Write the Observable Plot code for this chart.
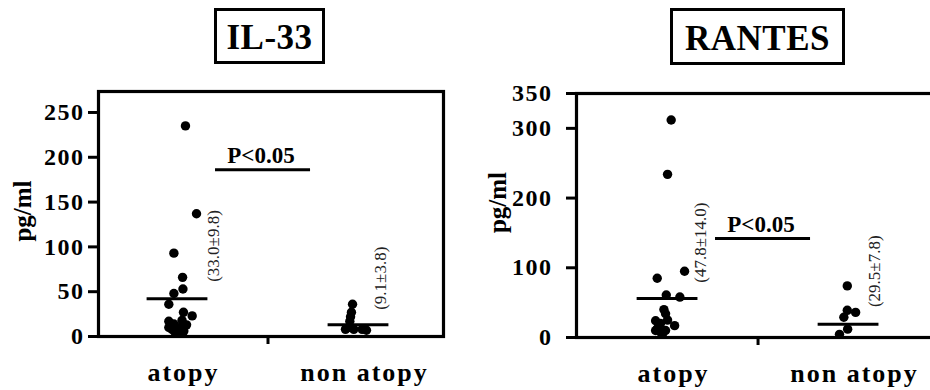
<!DOCTYPE html>
<html>
<head>
<meta charset="utf-8">
<script src="https://cdn.jsdelivr.net/npm/d3@7"></script>
<script src="https://cdn.jsdelivr.net/npm/@observablehq/plot@0.6"></script>
<style>
  html, body { margin: 0; padding: 0; background: white; }
  body { width: 930px; height: 390px; overflow: hidden; position: relative; font-family: "Liberation Serif", "Times New Roman", serif; }
  .panel { position: absolute; top: 0; z-index: 1; }
  .titlebox { position: absolute; z-index: 2; box-sizing: border-box; border: 3px solid black; background: white; display: flex; align-items: center; justify-content: center; font: bold 35px "Liberation Serif", serif; line-height: 1; padding-top: 3px; letter-spacing: 0.5px; }
  .panel g[aria-label="y-axis tick label"] { letter-spacing: 1.5px; }
  .panel g[aria-label="x-axis tick label"] { letter-spacing: 2px; }
  .panel g[aria-label="ylabel"] { letter-spacing: 1px; }
</style>
</head>
<body>
<div class="titlebox" id="t1" style="left:214px; top:8px; width:111px; height:56px;"></div>
<div class="titlebox" id="t2" style="left:670px; top:8px; width:175px; height:57px;"></div>
<div class="panel" id="p1" style="left:0px; width:465px;"></div>
<div class="panel" id="p2" style="left:465px; width:475px;"></div>
<script>
// ---- data ----
const categories = ["atopy", "non atopy"];
const titles = ["IL-33", "RANTES"];
const yUnit = "pg/ml";

const il33Atopy = [235, 137, 93, 66, 53, 48, 36, 27, 23, 17, 18, 14, 13, 10, 10, 8, 6, 6, 5, 4];
const il33AtopyJitter = [0.044, 0.105, -0.02, 0.028, 0.03, -0.02, -0.048, 0.033, 0.081, -0.048, 0.025, -0.02, 0.05, 0.015, -0.048, -0.03, 0, 0.035, -0.015, 0.01];
const il33NonAtopy = [36, 27, 22, 17, 10, 8, 8, 7, 8];
const il33NonAtopyJitter = [-0.033, -0.039, -0.044, -0.048, -0.054, -0.026, 0.02, 0.044, -0.072];

const rantesAtopy = [312, 234, 95, 85, 61, 58, 40, 34, 25, 24, 20, 17, 13, 10, 10, 8, 5];
const rantesAtopyJitter = [0.02, 0, 0.094, -0.057, -0.007, 0.068, -0.02, -0.011, 0, -0.066, -0.039, 0.039, -0.055, -0.066, -0.011, -0.039, -0.028];
const rantesNonAtopy = [74, 39, 36, 29, 12, 4.5];
const rantesNonAtopyJitter = [-0.007, -0.007, 0.039, -0.026, -0.005, -0.05];

const il33MeanLines = [42, 13];
const rantesMeanLines = [56, 19];
const il33Stats = ["(33.0±9.8)", "(9.1±3.8)"];
const rantesStats = ["(47.8±14.0)", "(29.5±7.8)"];
const il33StatPos = [{x: 1.2, y: 101}, {x: 2.12, y: 65}];
const rantesStatPos = [{x: 1.185, y: 136}, {x: 2.144, y: 95}];
const il33Sig = {label: "P<0.05", y: 186, x1: 1.21, x2: 1.735};
const rantesSig = {label: "P<0.05", y: 142, x1: 1.265, x2: 1.79};

const il33Ticks = [0, 50, 100, 150, 200, 250];
const rantesTicks = [0, 100, 200, 300, 350];
const il33Max = 273.4;
const rantesMax = 350;

// ---- build ----
function rows(vals, jit, c) { return vals.map((v, i) => ({c, v, j: jit[i]})); }

function panel(cfg) {
  const dots = [...rows(cfg.a, cfg.aj, 1), ...rows(cfg.n, cfg.nj, 2)];
  const means = cfg.means.map((v, i) => ({c: i + 1, v}));
  const stats = cfg.stats.map((t, i) => ({...cfg.statPos[i], t}));
  const hw = 0.168;
  return Plot.plot({
    width: cfg.width, height: 390,
    marginLeft: cfg.ml, marginRight: cfg.mr, marginTop: cfg.mt, marginBottom: cfg.mb,
    style: "max-width:none; overflow:visible; font-family:'Liberation Serif','Times New Roman',serif; background:transparent;",
    x: {type: "linear", domain: cfg.xd},
    y: {domain: [0, cfg.ymax]},
    marks: [
      Plot.frame({stroke: "black", strokeWidth: 3.2}),
      Plot.axisY(cfg.ticks, {tickSize: 10, strokeWidth: 3, tickPadding: cfg.tp, fontSize: 24, fontWeight: "bold", label: null, fill: "black"}),
      Plot.text([yUnit], {ariaLabel: "ylabel", frameAnchor: "left", textAnchor: "middle", rotate: -90, dx: cfg.ldx, dy: cfg.ldy, fontSize: 25, fontWeight: "bold", fill: "black"}),
      Plot.axisX([1.5], {tickSize: 8, strokeWidth: 3, tickFormat: () => "", label: null}),
      Plot.axisX([1, 2], {tickSize: 0, tickPadding: 26, tickFormat: d => categories[d - 1], fontSize: 26, fontWeight: "bold", dx: 6, label: null, fill: "black"}),
      Plot.dot(dots, {x: d => d.c + d.j, y: "v", r: 4.7, fill: "black", stroke: "none"}),
      Plot.ruleY(means, {y: "v", x1: d => d.c - hw, x2: d => d.c + hw, strokeWidth: 3, stroke: "black"}),
      Plot.ruleY([cfg.sig], {y: "y", x1: "x1", x2: "x2", strokeWidth: 3, stroke: "black"}),
      Plot.text([cfg.sig], {x: d => (d.x1 + d.x2) / 2, y: "y", text: "label", lineAnchor: "bottom", dy: -7, dx: -2, fontSize: 23, fontWeight: "bold", fill: "black"}),
      Plot.text(stats, {x: "x", y: "y", text: "t", rotate: -90, fontSize: 17, fill: "#222"})
    ]
  });
}

document.getElementById("t1").textContent = titles[0];
document.getElementById("t2").textContent = titles[1];

document.getElementById("p1").append(panel({
  width: 465, ml: 98, mr: 22, mt: 91, mb: 54, xd: [0.5635, 2.4696], ymax: il33Max, ticks: il33Ticks, tp: 4,
  ldx: -76, ldy: -3,
  a: il33Atopy, aj: il33AtopyJitter, n: il33NonAtopy, nj: il33NonAtopyJitter,
  means: il33MeanLines, stats: il33Stats, statPos: il33StatPos, sig: il33Sig
}));
document.getElementById("p2").append(panel({
  width: 475, ml: 111, mr: 0, mt: 93, mb: 53, xd: [0.497, 2.508], ymax: rantesMax, ticks: rantesTicks, tp: 14,
  ldx: -79, ldy: -13,
  a: rantesAtopy, aj: rantesAtopyJitter, n: rantesNonAtopy, nj: rantesNonAtopyJitter,
  means: rantesMeanLines, stats: rantesStats, statPos: rantesStatPos, sig: rantesSig
}));
</script>
</body>
</html>
